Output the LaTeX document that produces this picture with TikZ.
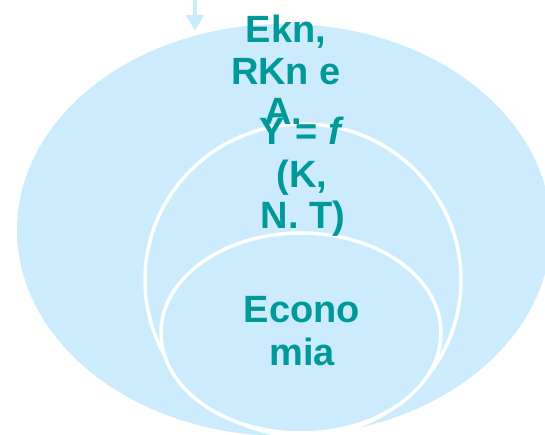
\documentclass[tikz,border=0pt]{standalone}
\usepackage{fontspec}
\setmainfont{Liberation Sans}
\usetikzlibrary{arrows.meta}
\definecolor{lblue}{HTML}{CCEBFC}
\definecolor{teal}{HTML}{009999}
\tikzset{
  blob/.style={fill=lblue},
  ring/.style={fill=lblue, draw=white, line width=3.5pt},
  lbl/.style={anchor=base, inner sep=0pt, text=teal, font=\fontsize{38}{42}\selectfont\bfseries},
  feed/.style={draw=lblue, line width=4pt, -{Triangle[width=17pt,length=16pt]}}
}
\begin{document}
\begin{tikzpicture}[x=1pt,y=1pt]
\useasboundingbox (0,0) rectangle (545,435);
\clip (0,0) rectangle (545,435);
\fill[blob] (284,205) ellipse [x radius=267, y radius=206];
\draw[ring] (303,155) ellipse [x radius=158, y radius=156];
\draw[ring] (301,102) ellipse [x radius=140, y radius=100];
\coordinate (src) at (195,437);
\coordinate (dst) at (195,404);
\draw[feed] (src) -- (dst);
\node[lbl] (t1) at (286,392) {Ekn,};
\node[lbl] (t2) at (286,350) {RKn e};
\node[lbl] (t3) at (283,310) {A.};
\node[lbl] (m1) at (302,290) {Y = \textit{f}};
\node[lbl] (m2) at (302,247) {(K,};
\node[lbl] (m3) at (303,206) {N. T)};
\node[lbl] (i1) at (302,112) {Econo};
\node[lbl] (i2) at (302,69) {mia};
\end{tikzpicture}
\end{document}
